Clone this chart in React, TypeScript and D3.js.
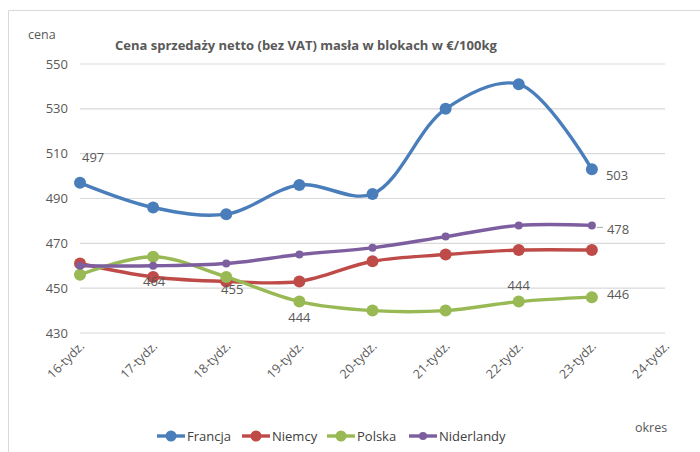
import React from "react";
import * as d3 from "d3";

const weeks = ["16-tydz.", "17-tydz.", "18-tydz.", "19-tydz.", "20-tydz.", "21-tydz.", "22-tydz.", "23-tydz.", "24-tydz."];
const yTicks = [430, 450, 470, 490, 510, 530, 550];

const francja = [497, 486, 483, 496, 492, 530, 541, 503];
const niemcy = [461, 455, 453, 453, 462, 465, 467, 467];
const polska = [456, 464, 455, 444, 440, 440, 444, 446];
const niderlandy = [460, 460, 461, 465, 468, 473, 478, 478];

const seriesNames = ["Francja", "Niemcy", "Polska", "Niderlandy"];
const seriesColors = ["#4a7ebb", "#be4b48", "#98b954", "#7d5fa0"];

// data labels: [series index, point index]
const dataLabels: [number, number][] = [
  [0, 0],
  [0, 7],
  [3, 7],
  [2, 7],
  [2, 6],
  [2, 3],
  [2, 2],
  [2, 1],
];
// label offsets from the point, in px
const labelOffsets: [number, number, string][] = [
  [2, -25, "start"],
  [14, 6, "start"],
  [15, 4, "start"],
  [15, -3, "start"],
  [0, -16, "middle"],
  [0, 16, "middle"],
  [6, 12, "middle"],
  [1, 25, "middle"],
];

const W = 700;
const H = 452;
const margin = { top: 64, right: 35, bottom: 119, left: 80 };

export default function App() {
  const allSeries = [francja, niemcy, polska, niderlandy];
  const x = d3
    .scalePoint<string>()
    .domain(weeks)
    .range([margin.left, W - margin.right]);
  const y = d3
    .scaleLinear()
    .domain([430, 550])
    .range([H - margin.bottom, margin.top]);

  const lineGen = d3
    .line<number>()
    .x((_, i) => x(weeks[i]) as number)
    .y((d) => y(d))
    .curve(d3.curveCatmullRom.alpha(0.5));

  const font = "'Open Sans', 'Noto Sans', sans-serif";
  const gray = "#595959";

  const legendX = [157, 242, 327, 409];

  return (
    <div style={{ position: "absolute", left: 0, top: 0 }}>
      <svg width={W} height={H} style={{ display: "block", fontFamily: font }}>
        <rect x={0} y={0} width={W} height={H} fill="#fff" />
        <line x1={8.5} y1={10.5} x2={W} y2={10.5} stroke="#d9d9d9" />
        <line x1={8.5} y1={10.5} x2={8.5} y2={H} stroke="#d9d9d9" />

        <text x={28} y={39} fontSize={12.5} fill={gray}>cena</text>
        <text x={115} y={50} fontSize={13} fontWeight="bold" fill={gray}>
          Cena sprzedaży netto (bez VAT) masła w blokach w €/100kg
        </text>

        {yTicks.map((t) => (
          <g key={t}>
            <line x1={margin.left} x2={W - margin.right} y1={y(t)} y2={y(t)} stroke="#d9d9d9" strokeWidth={1.2} />
            <text x={68} y={y(t)} dy="0.35em" textAnchor="end" fontSize={13} fill={gray}>{t}</text>
          </g>
        ))}

        {weeks.map((w) => (
          <text
            key={w}
            transform={`translate(${(x(w) as number) + 5},${347}) rotate(-45)`}
            textAnchor="end"
            fontSize={12.5}
            fill={gray}
          >
            {w}
          </text>
        ))}

        {allSeries.map((s, si) => (
          <g key={seriesNames[si]}>
            <path d={lineGen(s) || ""} fill="none" stroke={seriesColors[si]} strokeWidth={3.4} strokeLinecap="round" />
            {s.map((v, i) => (
              <circle key={i} cx={x(weeks[i]) as number} cy={y(v)} r={si === 3 ? 4 : 6} fill={seriesColors[si]} />
            ))}
          </g>
        ))}

        {dataLabels.map(([si, pi], k) => {
          const v = allSeries[si][pi];
          const px = x(weeks[pi]) as number;
          const py = y(v);
          const [dx, dy, anchor] = labelOffsets[k];
          return (
            <g key={k}>
              {si === 3 && (
                <line x1={px + 5} x2={px + 11} y1={py + 2} y2={py + 2} stroke="#a6a6a6" />
              )}
              <text x={px + dx} y={py + dy} dy="0.35em" textAnchor={anchor} fontSize={13} fill={gray}>{v}</text>
            </g>
          );
        })}

        {seriesNames.map((n, i) => (
          <g key={n} transform={`translate(${legendX[i]},${436})`}>
            <line x1={0} x2={28} y1={0} y2={0} stroke={seriesColors[i]} strokeWidth={3.4} />
            <circle cx={14} cy={0} r={i === 3 ? 4 : 5.5} fill={seriesColors[i]} />
            <text x={30} y={0} dy="0.35em" fontSize={13} fill="#404040">{n}</text>
          </g>
        ))}

        <text x={635} y={428} dy="0.35em" fontSize={12.5} fill={gray}>okres</text>
      </svg>
    </div>
  );
}
